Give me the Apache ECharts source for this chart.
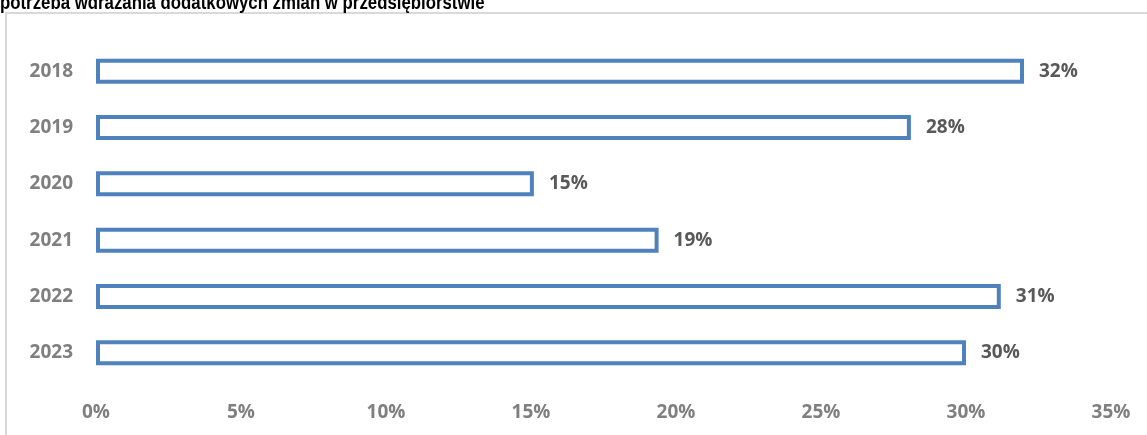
<!DOCTYPE html>
<html>
<head>
<meta charset="utf-8">
<script src="https://cdn.jsdelivr.net/npm/echarts@6/dist/echarts.min.js"></script>
<style>
  html, body { margin: 0; padding: 0; background: #fff; }
  #chart { width: 1147px; height: 435px; }
</style>
</head>
<body>
<div id="chart"></div>
<script>
// lata i odsetki (w %)
var years = ['2018', '2019', '2020', '2021', '2022', '2023'];
var shares = [32.0, 28.1, 15.1, 19.4, 31.2, 30.0];
var xTicks = [0, 5, 10, 15, 20, 25, 30, 35];

var titleText = 'potrzeba wdrażania dodatkowych zmian w przedsiębiorstwie';
var font = '"Open Sans", Lato, sans-serif';

var chart = echarts.init(document.getElementById('chart'));

chart.setOption({
  animation: false,
  graphic: [{
    type: 'rect',
    shape: { x: 6, y: 13, width: 1300, height: 600 },
    style: { fill: null, stroke: '#d9d9d9', lineWidth: 2 },
    silent: true
  }, {
    // tytuł ucięty u góry, zwężony jak w oryginale
    type: 'text',
    x: 0,
    y: 3,
    scaleX: 0.8,
    silent: true,
    style: {
      text: titleText,
      font: 'bold 21px "Liberation Sans", Arial, sans-serif',
      fill: '#000',
      verticalAlign: 'middle'
    }
  }],
  grid: {
    left: 96,
    right: 36,
    top: 43,
    bottom: 54,
    containLabel: false
  },
  xAxis: {
    type: 'value',
    min: xTicks[0],
    max: xTicks[xTicks.length - 1],
    interval: 5,
    axisLine: { show: false },
    axisTick: { show: false },
    splitLine: { show: false },
    axisLabel: {
      margin: 22,
      color: '#7f7f7f',
      fontFamily: font,
      fontSize: 19,
      fontWeight: 'bold',
      formatter: function (v) { return v + '%'; }
    }
  },
  yAxis: {
    type: 'category',
    data: years,
    inverse: true,
    axisLine: { show: false },
    axisTick: { show: false },
    splitLine: { show: false },
    axisLabel: {
      margin: 23,
      color: '#7f7f7f',
      fontFamily: font,
      fontSize: 19,
      fontWeight: 'bold'
    }
  },
  series: [{
    type: 'bar',
    data: shares,
    barWidth: 25,
    itemStyle: {
      color: '#fff',
      borderColor: '#4f81bd',
      borderWidth: 4
    },
    label: {
      show: true,
      position: 'right',
      distance: 15,
      color: '#595959',
      fontFamily: font,
      fontSize: 19,
      fontWeight: 'bold',
      formatter: function (p) { return Math.round(p.value) + '%'; }
    }
  }]
});
</script>
</body>
</html>
